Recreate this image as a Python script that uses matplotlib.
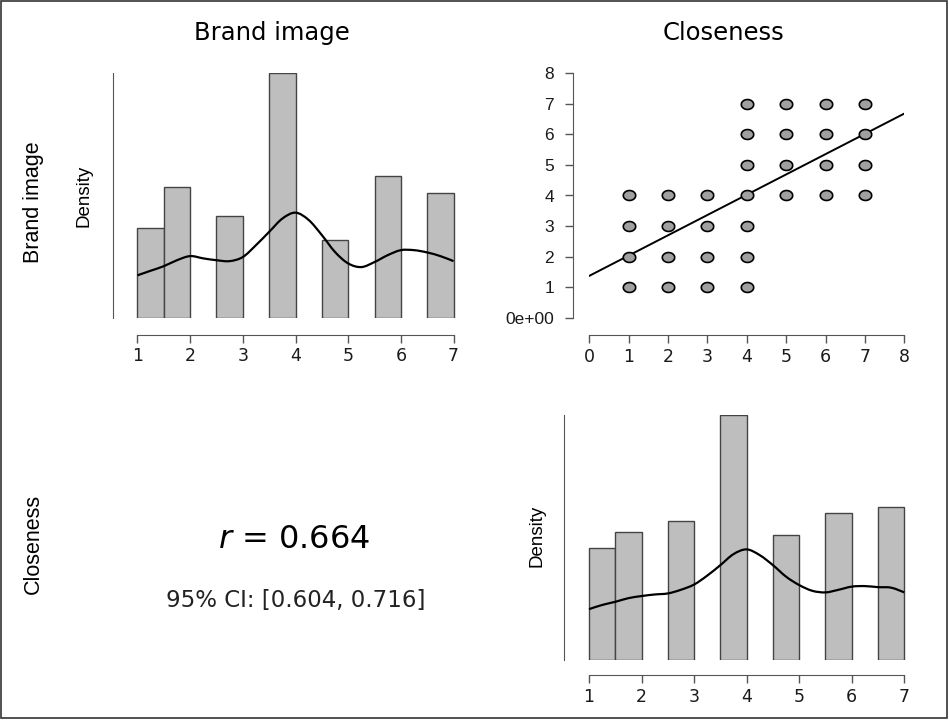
import numpy as np
import matplotlib.pyplot as plt
from matplotlib.patches import Rectangle, PathPatch
from matplotlib.path import Path

plt.rcParams['font.family'] = ['Liberation Sans', 'DejaVu Sans']
plt.rcParams['mathtext.fontset'] = 'dejavusans'

# Histogram data: densities per score level (bin width 0.5)
levels = np.array([1, 2, 3, 4, 5, 6, 7])
brand_density = [0.197, 0.286, 0.224, 0.537, 0.171, 0.311, 0.275]
close_density = [0.213, 0.244, 0.265, 0.468, 0.239, 0.280, 0.291]

# Kernel density curves
curve_x = [1.0, 1.25, 1.5, 1.75, 2.0, 2.25, 2.5, 2.75, 3.0, 3.25, 3.5, 3.75, 4.0,
           4.25, 4.5, 4.75, 5.0, 5.25, 5.5, 5.75, 6.0, 6.25, 6.5, 6.75, 7.0]
brand_curve = [0.094, 0.104, 0.114, 0.127, 0.136, 0.131, 0.127, 0.125, 0.134, 0.160,
               0.189, 0.218, 0.231, 0.215, 0.182, 0.145, 0.120, 0.112, 0.123, 0.138,
               0.149, 0.149, 0.144, 0.136, 0.125]
close_curve = [0.097, 0.105, 0.111, 0.118, 0.122, 0.125, 0.127, 0.134, 0.144, 0.161,
               0.181, 0.202, 0.211, 0.200, 0.181, 0.159, 0.143, 0.132, 0.129, 0.134,
               0.140, 0.141, 0.139, 0.138, 0.129]

# Scatter data (Closeness on x, Brand image on y)
sc_x = [1, 2, 3, 4, 1, 2, 3, 4, 1, 2, 3, 4, 1, 2, 3, 4, 5, 6, 7, 4, 5, 6, 7, 4, 5, 6, 7, 4, 5, 6, 7]
sc_y = [1, 1, 1, 1, 2, 2, 2, 2, 3, 3, 3, 3, 4, 4, 4, 4, 4, 4, 4, 5, 5, 5, 5, 6, 6, 6, 6, 7, 7, 7, 7]
fit_intercept = 1.37
fit_slope = 0.664
sc_ticks = [0, 1, 2, 3, 4, 5, 6, 7, 8]
sc_yticklabels = ['0e+00', '1', '2', '3', '4', '5', '6', '7', '8']

r_text = '$r$ = 0.664'
ci_text = '95% CI: [0.604, 0.716]'

W, H = 949, 720
fig = plt.figure(figsize=(W / 100, H / 100), dpi=100)

axis_col = '#555555'
bar_fill = '#bebebe'
wide = ['DejaVu Sans']


def px_axes(left, top, right, bottom):
    return fig.add_axes([left / W, 1 - bottom / H, (right - left) / W, (bottom - top) / H])


def style_axis(ax, xoff):
    for s in ['top', 'right']:
        ax.spines[s].set_visible(False)
    ax.spines['bottom'].set_position(('outward', xoff))
    ax.spines['bottom'].set_color(axis_col)
    ax.spines['left'].set_color(axis_col)
    ax.tick_params(colors=axis_col, labelcolor='#1a1a1a', labelsize=12.5, length=6, width=1)
    ax.tick_params(axis='x', pad=3)
    ax.tick_params(axis='y', pad=8)
    for lab in ax.get_xticklabels() + ax.get_yticklabels():
        lab.set_family(wide)


# smooth curve through the read points (Catmull-Rom as cubic Bezier segments)
def smooth_path(x, y):
    pts = np.column_stack([x, y])
    n = len(pts)
    verts = [pts[0]]
    codes = [Path.MOVETO]
    for i in range(n - 1):
        p0, p1 = pts[max(i - 1, 0)], pts[i]
        p2, p3 = pts[i + 1], pts[min(i + 2, n - 1)]
        verts += [p1 + (p2 - p0) / 6, p2 - (p3 - p1) / 6, p2]
        codes += [Path.CURVE4] * 3
    return Path(verts, codes)


def histogram(ax, dens, curve, xlim, xoff):
    lefts = np.where(levels == 1, 1.0, levels - 0.5)
    ax.bar(lefts, dens, width=0.5, align='edge', color=bar_fill, edgecolor='#444444', linewidth=1)
    ax.add_patch(PathPatch(smooth_path(curve_x, curve), fill=False, edgecolor='black', lw=1.6))
    ax.set_xlim(*xlim)
    ax.set_ylim(0, max(dens))
    ax.set_xticks(levels)
    ax.set_yticks([])
    style_axis(ax, xoff)
    ax.spines['bottom'].set_bounds(1, 7)


# top-left: Brand image histogram
ax1 = px_axes(113, 72.7, 478, 318.3)
histogram(ax1, brand_density, brand_curve, (0.535, 7.465), 12)

# bottom-right: Closeness histogram
ax4 = px_axes(564, 414.7, 929.3, 660)
histogram(ax4, close_density, close_curve, (0.524, 7.476), 10.8)

# top-right: scatter
ax2 = px_axes(589.3, 73.3, 904.3, 317.7)
ell = np.linspace(0, 2 * np.pi, 40)
ell_marker = np.column_stack([1.25 * np.cos(ell), np.sin(ell)])
ax2.scatter(sc_x, sc_y, marker=ell_marker, s=80, facecolor='#a0a0a0', edgecolor='black', linewidths=1.2, zorder=3)
ax2.axline((0, fit_intercept), slope=fit_slope, color='black', lw=1.4, zorder=2)
ax2.set_xlim(0, 8)
ax2.set_ylim(0, 8)
ax2.set_xticks(sc_ticks)
ax2.set_yticks(sc_ticks)
ax2.set_yticklabels(sc_yticklabels)
style_axis(ax2, 12.5)
ax2.spines['left'].set_position(('outward', 11.5))
ax2.spines['bottom'].set_bounds(0, 8)
ax2.spines['left'].set_bounds(0, 8)

# texts
fig.text(272 / W, 1 - 33 / H, 'Brand image', ha='center', va='center', fontsize=17.5, family=wide)
fig.text(723 / W, 1 - 33 / H, 'Closeness', ha='center', va='center', fontsize=17.5, family=wide)
fig.text(34 / W, 1 - 202 / H, 'Brand image', ha='center', va='center', rotation=90, fontsize=15.5)
fig.text(33 / W, 1 - 544 / H, 'Closeness', ha='center', va='center', rotation=90, fontsize=15.5)
fig.text(84 / W, 1 - 196 / H, 'Density', ha='center', va='center', rotation=90, fontsize=13.5)
fig.text(537 / W, 1 - 536 / H, 'Density', ha='center', va='center', rotation=90, fontsize=13.5)
fig.text(294 / W, 1 - 540 / H, r_text, ha='center', va='center', fontsize=23, family=wide)
fig.text(296 / W, 1 - 600 / H, ci_text, ha='center', va='center', fontsize=16.5, color='#222222', family=wide)

# outer frame
fig.patches.append(Rectangle((1 / W, 2 / H), 946 / W, 717 / H, transform=fig.transFigure,
                             fill=False, edgecolor='#333333', linewidth=1.2))

fig.savefig('out.png', dpi=100)
